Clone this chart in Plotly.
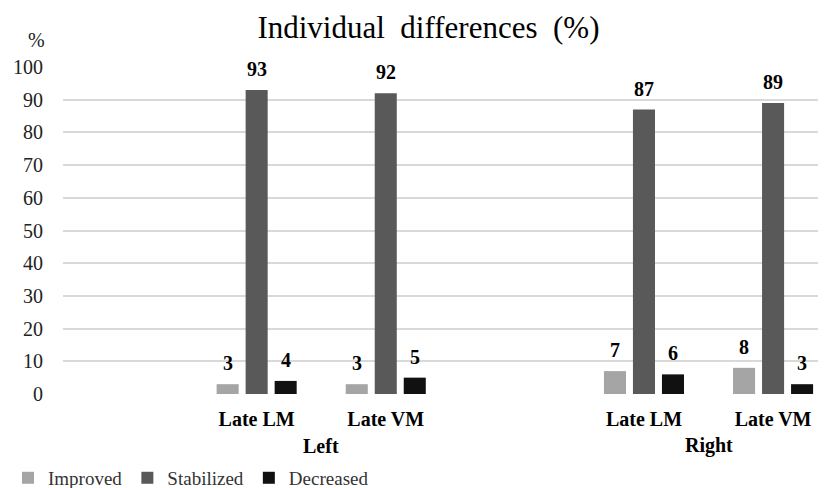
import plotly.graph_objects as go

# ---- data ----
sides = ["Left", "Left", "Right", "Right"]
conditions = ["Late LM", "Late VM", "Late LM", "Late VM"]
improved = [3, 3, 7, 8]
stabilized = [93, 92, 87, 89]
decreased = [4, 5, 6, 3]
series_names = ["Improved", "Stabilized", "Decreased"]
series_colors = ["#A5A5A5", "#595959", "#111111"]
y_ticks = [0, 10, 20, 30, 40, 50, 60, 70, 80, 90, 100]

# category keys (unique), with an empty slot before each side as in the original
keys = [f"{s} {c}" for s, c in zip(sides, conditions)]
category_order = ["_blank_left", keys[0], keys[1], "_blank_right", keys[2], keys[3]]

SERIF = "Liberation Serif"

# layout geometry (page body adds an 8px margin in the browser)
W, H = 818, 480
ML, MR, MT, MB = 55, 0, 59, 94
X_RANGE = [-0.5, 5.41]
BARGAP, BARGROUPGAP = 0.326, 0.24

fig = go.Figure()
for name, vals, col in zip(series_names, [improved, stabilized, decreased], series_colors):
    fig.add_trace(go.Bar(name=name, x=keys, y=vals, marker_color=col,
                         marker_line_width=0))

fig.update_layout(
    width=W, height=H,
    margin=dict(l=ML, r=MR, t=MT, b=MB, autoexpand=False),
    paper_bgcolor="white", plot_bgcolor="white",
    barmode="group", bargap=BARGAP, bargroupgap=BARGROUPGAP,
    title=dict(text="Individual&nbsp; differences&nbsp; (%)", x=0.514, xanchor="center",
               y=0.96, yanchor="middle", yref="container",
               font=dict(family=SERIF, size=31, color="#000000")),
    legend=dict(orientation="h", x=-0.012, xanchor="left", xref="container",
                y=0.021, yanchor="middle", yref="container",
                font=dict(family=SERIF, size=19, color="#333333"),
                itemwidth=30, traceorder="normal"),
    font=dict(family=SERIF),
    showlegend=True,
)

fig.update_xaxes(
    type="category", categoryorder="array", categoryarray=category_order,
    range=X_RANGE, tickvals=keys, ticktext=conditions,
    tickfont=dict(family=SERIF, size=20, color="#000000", weight="bold"),
    ticklabelstandoff=11, showgrid=False, showline=False, zeroline=False,
    automargin=False,
)
fig.update_yaxes(
    range=[0, 100], tickvals=y_ticks, showgrid=True, gridcolor="#D9D9D9",
    gridwidth=1.5, zeroline=False, showline=False,
    tickfont=dict(family=SERIF, size=20, color="#222222"),
    ticklabelstandoff=19, automargin=False,
)

# value labels above each bar (shifted to each bar's slot within its group)
slot_px = (W - ML - MR) / (X_RANGE[1] - X_RANGE[0])
bar_slot_px = slot_px * (1 - BARGAP) / len(series_names)
for i, vals in enumerate([improved, stabilized, decreased]):
    for k, v in zip(keys, vals):
        fig.add_annotation(text=f"<b>{v}</b>", x=k, y=v, xref="x", yref="y",
                           xshift=(i - 1) * bar_slot_px, yshift=21,
                           yanchor="middle", showarrow=False,
                           font=dict(family=SERIF, size=20, color="#000000"))

# side labels centred under their two categories
for side, pos in [("Left", 1.5), ("Right", 4.5)]:
    fig.add_annotation(text=side, x=pos, xref="x", y=-0.159, yref="paper",
                       yanchor="middle", showarrow=False,
                       font=dict(family=SERIF, size=20, color="#000000", weight="bold"))

fig.add_annotation(text="%", x=-0.035, xref="paper", y=1.083, yref="paper",
                   xanchor="center", yanchor="middle", showarrow=False,
                   font=dict(family=SERIF, size=20, color="#222222"))

fig.write_html("out.html")
